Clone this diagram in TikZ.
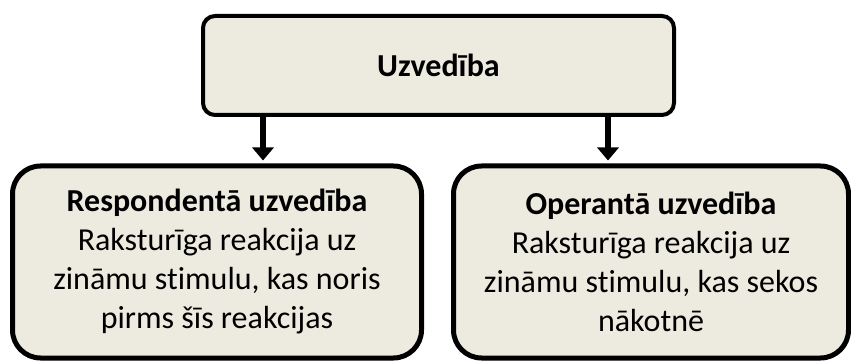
\documentclass[tikz,border=0pt]{standalone}
\usepackage{fontspec}
\setmainfont[Ligatures=NoCommon]{Carlito}
\usetikzlibrary{arrows.meta, positioning}
\definecolor{boxfill}{HTML}{EDEAE0}

\begin{document}
\begin{tikzpicture}[x=1pt, y=-1pt,
    topbox/.style={draw, rounded corners=12pt, line width=4pt, fill=boxfill, minimum width=471pt, minimum height=99pt, font=\fontsize{32}{38}\selectfont\bfseries},
    subbox/.style={draw, rounded corners=28pt, line width=5pt, fill=boxfill, minimum height=192pt, align=center, font=\fontsize{32}{39}\selectfont},
    arr/.style={-{Triangle[width=21pt, length=13pt]}, line width=6pt}]
  \useasboundingbox (0,0) rectangle (851,363);
  \node[topbox] (top) at (438.5,65.5) {Uzvedība};
  \node[subbox, minimum width=409pt] (resp) at (217,262) {\textbf{Respondentā uzvedība}\\Raksturīga reakcija uz\\zināmu stimulu, kas noris\\pirms šīs reakcijas};
  \node[subbox, minimum width=395pt] (oper) at (651,262) {\textbf{Operantā uzvedība}\\Raksturīga reakcija uz\\zināmu stimulu, kas sekos\\nākotnē};
  % arrows
  \coordinate (ra) at (263,0);
  \coordinate (oa) at (608,0);
  \draw[arr] (top.south -| ra) -- ([yshift=3pt]resp.north -| ra);
  \draw[arr] (top.south -| oa) -- ([yshift=3pt]oper.north -| oa);
\end{tikzpicture}
\end{document}
